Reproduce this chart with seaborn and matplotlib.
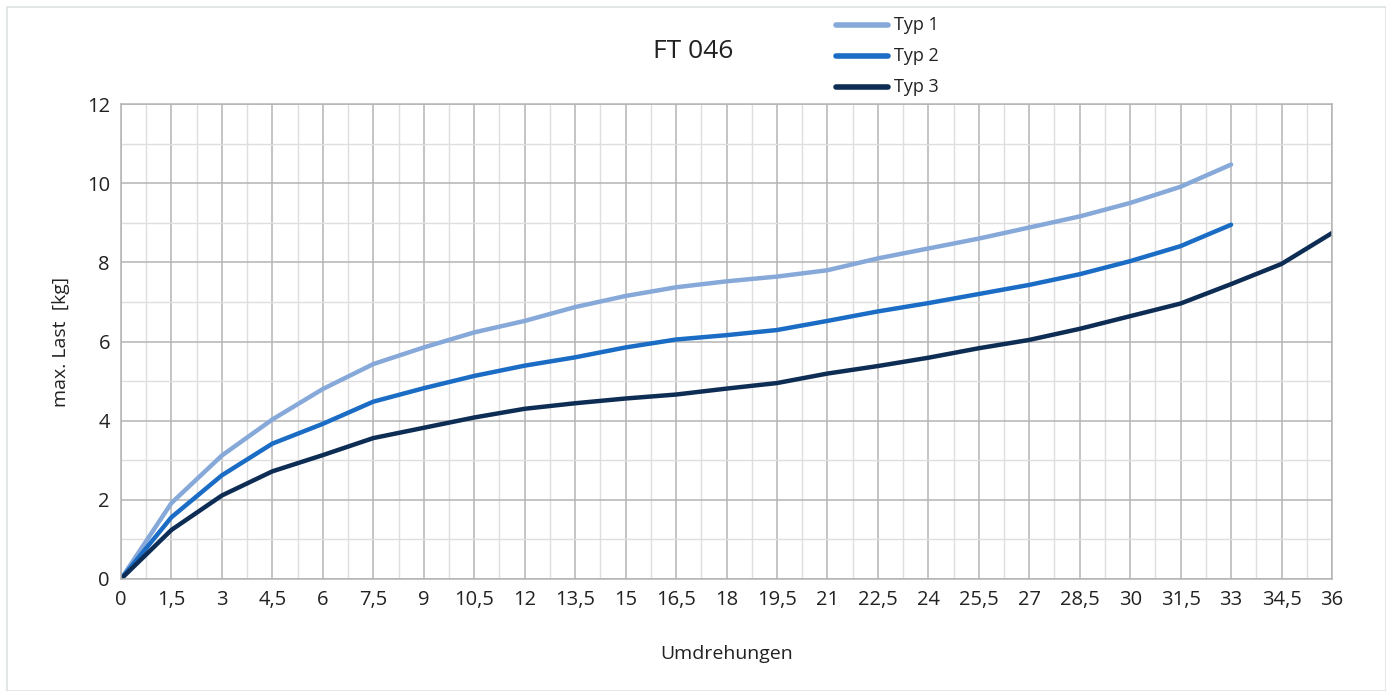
import matplotlib
matplotlib.use("Agg")
import matplotlib.pyplot as plt
from matplotlib.ticker import MultipleLocator, FuncFormatter
import pandas as pd
import seaborn as sns

# Umdrehungen (x) and max. Last [kg] per Typ
umdrehungen = [0, 1.5, 3, 4.5, 6, 7.5, 9, 10.5, 12, 13.5, 15, 16.5, 18, 19.5,
               21, 22.5, 24, 25.5, 27, 28.5, 30, 31.5, 33, 34.5, 36]
typ1 = [0, 1.92, 3.12, 4.03, 4.8, 5.43, 5.85, 6.23, 6.52, 6.87, 7.15, 7.37, 7.52,
        7.64, 7.8, 8.1, 8.35, 8.6, 8.88, 9.16, 9.5, 9.91, 10.47]
typ2 = [0, 1.56, 2.62, 3.42, 3.92, 4.48, 4.82, 5.13, 5.39, 5.6, 5.85, 6.05, 6.16,
        6.29, 6.52, 6.76, 6.97, 7.2, 7.43, 7.7, 8.03, 8.41, 8.95]
typ3 = [0, 1.24, 2.11, 2.72, 3.13, 3.56, 3.82, 4.08, 4.3, 4.44, 4.56, 4.66, 4.81,
        4.95, 5.19, 5.38, 5.59, 5.83, 6.04, 6.32, 6.64, 6.96, 7.45, 7.96, 8.74]

series = {"Typ 1": typ1, "Typ 2": typ2, "Typ 3": typ3}
colors = {"Typ 1": "#86a9d9", "Typ 2": "#1a6cc4", "Typ 3": "#0e2d55"}

rows = []
for name, vals in series.items():
    for x, y in zip(umdrehungen, vals):
        rows.append({"Umdrehungen": x, "Last": y, "Typ": name})
df = pd.DataFrame(rows)

sns.set_style("white")
plt.rcParams["font.family"] = ["Open Sans", "DejaVu Sans"]

fig = plt.figure(figsize=(13.86, 6.91), dpi=100)
ax = fig.add_axes([121 / 1386, 1 - 579 / 691, (1332 - 121) / 1386, (579 - 104) / 691])

sns.lineplot(data=df, x="Umdrehungen", y="Last", hue="Typ", palette=colors,
             linewidth=3.2, ax=ax, legend=False, sort=False)

ax.set_xlim(0, 36)
ax.set_ylim(0, 12)
ax.xaxis.set_major_locator(MultipleLocator(1.5))
ax.xaxis.set_minor_locator(MultipleLocator(0.75))
ax.yaxis.set_major_locator(MultipleLocator(2))
ax.yaxis.set_minor_locator(MultipleLocator(1))
ax.xaxis.set_major_formatter(FuncFormatter(lambda v, p: f"{v:g}".replace(".", ",")))
ax.grid(which="major", color="#b4b4b4", linewidth=1.1)
ax.grid(which="minor", color="#dedede", linewidth=1.0)
ax.set_axisbelow(True)
for s in ax.spines.values():
    s.set_color("#b4b4b4")
    s.set_linewidth(1.1)
ax.tick_params(which="major", length=4, color="#b4b4b4", labelsize=14.5, pad=4,
               labelcolor="#222222")
ax.tick_params(which="minor", length=2, color="#d0d0d0")

ax.set_xlabel("Umdrehungen", fontsize=14, labelpad=25, color="#222222")
ax.set_ylabel("max. Last  [kg]", fontsize=14, labelpad=12, color="#222222")
fig.text(693 / 1386, 1 - 52 / 691, "FT 046", ha="center", va="center",
         fontsize=19, color="#222222")

# legend drawn in figure coordinates at the top right
for i, name in enumerate(series):
    yy = 1 - (25 + i * 31) / 691
    fig.add_artist(plt.Line2D([836 / 1386, 888 / 1386], [yy, yy],
                              color=colors[name], linewidth=4))
    fig.text(894 / 1386, yy, name, ha="left", va="center", fontsize=13,
             color="#222222")

# thin outer frame
fig.add_artist(plt.Rectangle((7 / 1386, 0), 1 - 7 / 1386, 1 - 7 / 691,
                             fill=False, edgecolor="#dfe3e3", linewidth=1.2,
                             transform=fig.transFigure))

fig.savefig("out.png", dpi=100)
